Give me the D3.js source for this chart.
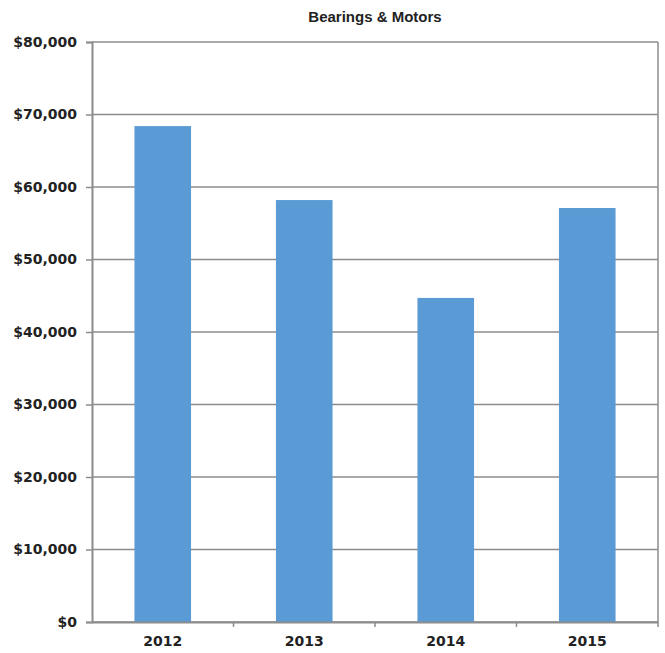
<!DOCTYPE html>
<html>
<head>
<meta charset="utf-8">
<script src="https://cdn.jsdelivr.net/npm/d3@7"></script>
<style>
  html, body { margin: 0; padding: 0; background: #fff; }
  svg { display: block; }
</style>
</head>
<body>
<svg id="chart" width="665" height="653"></svg>
<script>
// Annual spend on bearings and motors
const years = ["2012", "2013", "2014", "2015"];
const spend = [68400, 58200, 44700, 57100];
const yTicks = [0, 10000, 20000, 30000, 40000, 50000, 60000, 70000, 80000];
const chartTitle = "Bearings & Motors";

const svg = d3.select("#chart");
const margin = { top: 42, right: 7, bottom: 31, left: 92 };
const W = 665, H = 653;
const innerW = W - margin.left - margin.right;
const innerH = H - margin.top - margin.bottom;

const g = svg.append("g").attr("transform", `translate(${margin.left},${margin.top})`);

const x = d3.scaleBand().domain(years).range([0, innerW]).paddingInner(0.6).paddingOuter(0.3);
const y = d3.scaleLinear().domain([0, 80000]).range([innerH, 0]);

const gridColor = "#8c8c8c";
const labelFont = "'DejaVu Sans', sans-serif";

// horizontal gridlines
g.append("g").selectAll("line").data(yTicks).join("line")
  .attr("x1", 0).attr("x2", innerW)
  .attr("y1", d => y(d)).attr("y2", d => y(d))
  .attr("stroke", gridColor).attr("stroke-width", 1.5);

// right border of plot area
g.append("line")
  .attr("x1", innerW).attr("x2", innerW).attr("y1", 0).attr("y2", innerH)
  .attr("stroke", gridColor).attr("stroke-width", 1.5);

// bars
g.append("g").selectAll("rect").data(years).join("rect")
  .attr("x", d => x(d))
  .attr("width", x.bandwidth())
  .attr("y", (d, i) => y(spend[i]))
  .attr("height", (d, i) => innerH - y(spend[i]))
  .attr("fill", "#5b9bd5");

// y axis
const yAxis = g.append("g")
  .call(d3.axisLeft(y).tickValues(yTicks).tickSize(6).tickPadding(9)
    .tickFormat(d => "$" + d3.format(",")(d)));
yAxis.select(".domain").attr("stroke", gridColor).attr("stroke-width", 2);
yAxis.selectAll(".tick line").attr("stroke", gridColor).attr("stroke-width", 1.5);
yAxis.selectAll("text")
  .attr("fill", "#222").style("font-family", labelFont)
  .style("font-weight", "bold").style("font-size", "14px");

// x axis with ticks between categories
const xAxis = g.append("g").attr("transform", `translate(0,${innerH})`)
  .call(d3.axisBottom(x).tickSize(0).tickPadding(14));
xAxis.select(".domain").attr("stroke", gridColor).attr("stroke-width", 2);
xAxis.selectAll("text")
  .attr("fill", "#222").style("font-family", labelFont)
  .style("font-weight", "bold").style("font-size", "14px");

const bounds = years.slice(1).map(d => x(d) - x.step() * x.paddingInner() / 2);
bounds.push(innerW);
xAxis.append("g").selectAll("line").data(bounds).join("line")
  .attr("x1", d => d).attr("x2", d => d)
  .attr("y1", 0).attr("y2", 5)
  .attr("stroke", gridColor).attr("stroke-width", 1.5);

// title
svg.append("text")
  .attr("x", margin.left + innerW / 2)
  .attr("y", 22)
  .attr("text-anchor", "middle")
  .attr("fill", "#222")
  .style("font-family", "'Liberation Sans', Arial, sans-serif")
  .style("font-weight", "bold")
  .style("font-size", "15px")
  .text(chartTitle);
</script>
</body>
</html>
